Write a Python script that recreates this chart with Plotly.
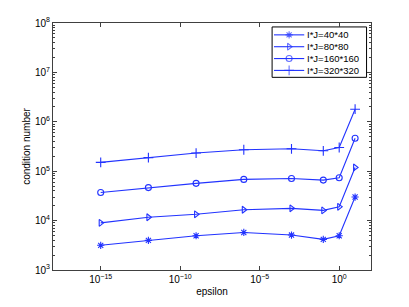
import plotly.graph_objects as go

epsilon = [1e-15, 1e-12, 1e-9, 1e-6, 1e-3, 1e-1, 1, 10]
names = ["I*J=40*40", "I*J=80*80", "I*J=160*160", "I*J=320*320"]
cond_40 = [3.16e3, 3.98e3, 4.94e3, 5.75e3, 5.1e3, 4.17e3, 4.94e3, 3.0e4]
cond_80 = [9.0e3, 1.17e4, 1.34e4, 1.66e4, 1.77e4, 1.61e4, 1.9e4, 1.19e5]
cond_160 = [3.7e4, 4.66e4, 5.68e4, 6.82e4, 7.14e4, 6.6e4, 7.38e4, 4.66e5]
cond_320 = [1.51e5, 1.88e5, 2.33e5, 2.72e5, 2.84e5, 2.59e5, 3.02e5, 1.8e6]
series = [cond_40, cond_80, cond_160, cond_320]
symbols = ["asterisk-open", "triangle-right-open", "circle-open", "cross-thin-open"]
sizes = [6, 6, 6, 7]

xtick_vals = [1e-15, 1e-10, 1e-5, 1e0]
xtick_text = ["10<sup>−15</sup>", "10<sup>−10</sup>", "10<sup>−5</sup>", "10<sup>0</sup>"]
ytick_vals = [1e3, 1e4, 1e5, 1e6, 1e7, 1e8]
ytick_text = ["10<sup>3</sup>", "10<sup>4</sup>", "10<sup>5</sup>", "10<sup>6</sup>", "10<sup>7</sup>", "10<sup>8</sup>"]

FONT = "Liberation Sans, Arial"
color = "#2233ff"
fig = go.Figure()
for name, vals, sym, sz in zip(names, series, symbols, sizes):
    fig.add_trace(go.Scatter(
        x=epsilon, y=vals, name=name, mode="lines+markers", showlegend=False,
        line=dict(color=color, width=1.1),
        marker=dict(symbol=sym, size=sz, color=color, line=dict(color=color, width=1.1)),
    ))

# --- compact MATLAB-style legend drawn on an overlay axis (0..1 = plot area) ---
box_x0, box_x1, box_y0, box_y1 = 0.689, 0.986, 0.78, 0.984
line_x0, line_x1, text_x = 0.695, 0.79, 0.795
row_y = [0.952, 0.904, 0.856, 0.808]
fig.add_trace(go.Scatter(
    x=[box_x0, box_x1, box_x1, box_x0, box_x0], y=[box_y0, box_y0, box_y1, box_y1, box_y0],
    xaxis="x2", yaxis="y2", mode="lines", fill="toself", fillcolor="white",
    line=dict(color="black", width=1), showlegend=False, hoverinfo="skip",
))
for name, sym, sz, ry in zip(names, symbols, sizes, row_y):
    mid = (line_x0 + line_x1) / 2
    fig.add_trace(go.Scatter(
        x=[line_x0, mid, line_x1], y=[ry, ry, ry], xaxis="x2", yaxis="y2",
        mode="lines+markers", showlegend=False, hoverinfo="skip", cliponaxis=False,
        line=dict(color=color, width=1.1),
        marker=dict(symbol=sym, size=[0, sz, 0], color=color, line=dict(color=color, width=1.1)),
    ))
    fig.add_annotation(x=text_x, y=ry, xref="paper", yref="paper", text=name, showarrow=False,
                       xanchor="left", yanchor="middle", borderpad=0,
                       font=dict(family=FONT, size=9.5, color="black"))

axis_common = dict(
    showgrid=False, zeroline=False, showline=True, linecolor="#404040", linewidth=1,
    mirror="allticks", ticks="inside", ticklen=4, tickcolor="#404040",
    tickfont=dict(family=FONT, size=10, color="black"),
)
fig.update_layout(
    xaxis=dict(type="log", range=[-18, 2], tickvals=xtick_vals, ticktext=xtick_text,
               title=dict(text="epsilon", font=dict(family=FONT, size=10), standoff=3),
               automargin=True, **axis_common),
    yaxis=dict(type="log", range=[3, 8], tickvals=ytick_vals, ticktext=ytick_text,
               minor=dict(ticks="inside", ticklen=2, tickcolor="#404040", dtick="D1", showgrid=False),
               title=dict(text="condition number", font=dict(family=FONT, size=10), standoff=2),
               automargin=True, **axis_common),
    xaxis2=dict(overlaying="x", range=[0, 1], visible=False, fixedrange=True),
    yaxis2=dict(overlaying="y", range=[0, 1], visible=False, fixedrange=True),
    width=409, height=307,
    margin=dict(l=53, r=38, t=23, b=34),
    paper_bgcolor="white", plot_bgcolor="white",
    font=dict(family=FONT, size=10, color="black"),
    showlegend=False,
)
fig.write_html("out.html", config={"displayModeBar": False},
               post_script="document.body.style.margin='0';")
